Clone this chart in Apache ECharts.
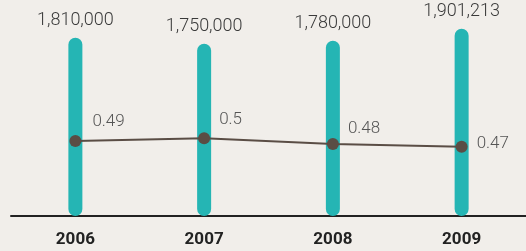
<!DOCTYPE html>
<html>
<head>
<meta charset="utf-8">
<script src="https://cdn.jsdelivr.net/npm/echarts@6/dist/echarts.min.js"></script>
<style>
html, body { margin: 0; padding: 0; background: #f1eeea; }
#chart { width: 526px; height: 251px; }
</style>
</head>
<body>
<div id="chart"></div>
<script>
var years = ['2006', '2007', '2008', '2009'];
var totals = [1810000, 1750000, 1780000, 1901213];
var ratios = [0.49, 0.5, 0.48, 0.47];
// label offsets for the line labels (picture has them nudged up next to the bars)
var ratioOffsets = [[2, -19], [0, -18], [0, -15], [0, -3]];

var myChart = echarts.init(document.getElementById('chart'));

var option = {
    backgroundColor: '#f1eeea',
    animation: false,
    grid: { left: 11, right: 0, top: 19, bottom: 35 },
    xAxis: {
        type: 'category',
        data: years,
        axisLine: { lineStyle: { color: '#222', width: 2 } },
        axisTick: { show: false },
        axisLabel: {
            margin: 15,
            fontFamily: 'Roboto',
            fontWeight: 'bold',
            fontSize: 17,
            color: '#222'
        }
    },
    yAxis: [
        { type: 'value', min: 0, max: 2000000, show: false },
        { type: 'value', min: 0.2307, max: 0.9125, show: false }
    ],
    series: [
        {
            type: 'bar',
            data: totals,
            barWidth: 14,
            itemStyle: { color: '#25b5b4', borderRadius: 7 },
            label: {
                show: true,
                position: 'top',
                distance: 8,
                fontFamily: 'Roboto',
                fontWeight: 300,
                fontSize: 18,
                color: '#3a3a3a',
                formatter: function (p) {
                    return p.value.toLocaleString('en-US');
                }
            }
        },
        {
            type: 'line',
            yAxisIndex: 1,
            data: ratios.map(function (v, i) {
                return { value: v, label: { offset: ratioOffsets[i] } };
            }),
            symbol: 'circle',
            symbolSize: 12,
            lineStyle: { color: '#5a4d45', width: 2 },
            itemStyle: { color: '#5a4d45' },
            label: {
                show: true,
                position: 'right',
                distance: 9,
                fontFamily: 'Roboto',
                fontWeight: 300,
                fontSize: 17,
                color: '#555'
            }
        }
    ]
};

myChart.setOption(option, true);
</script>
</body>
</html>
